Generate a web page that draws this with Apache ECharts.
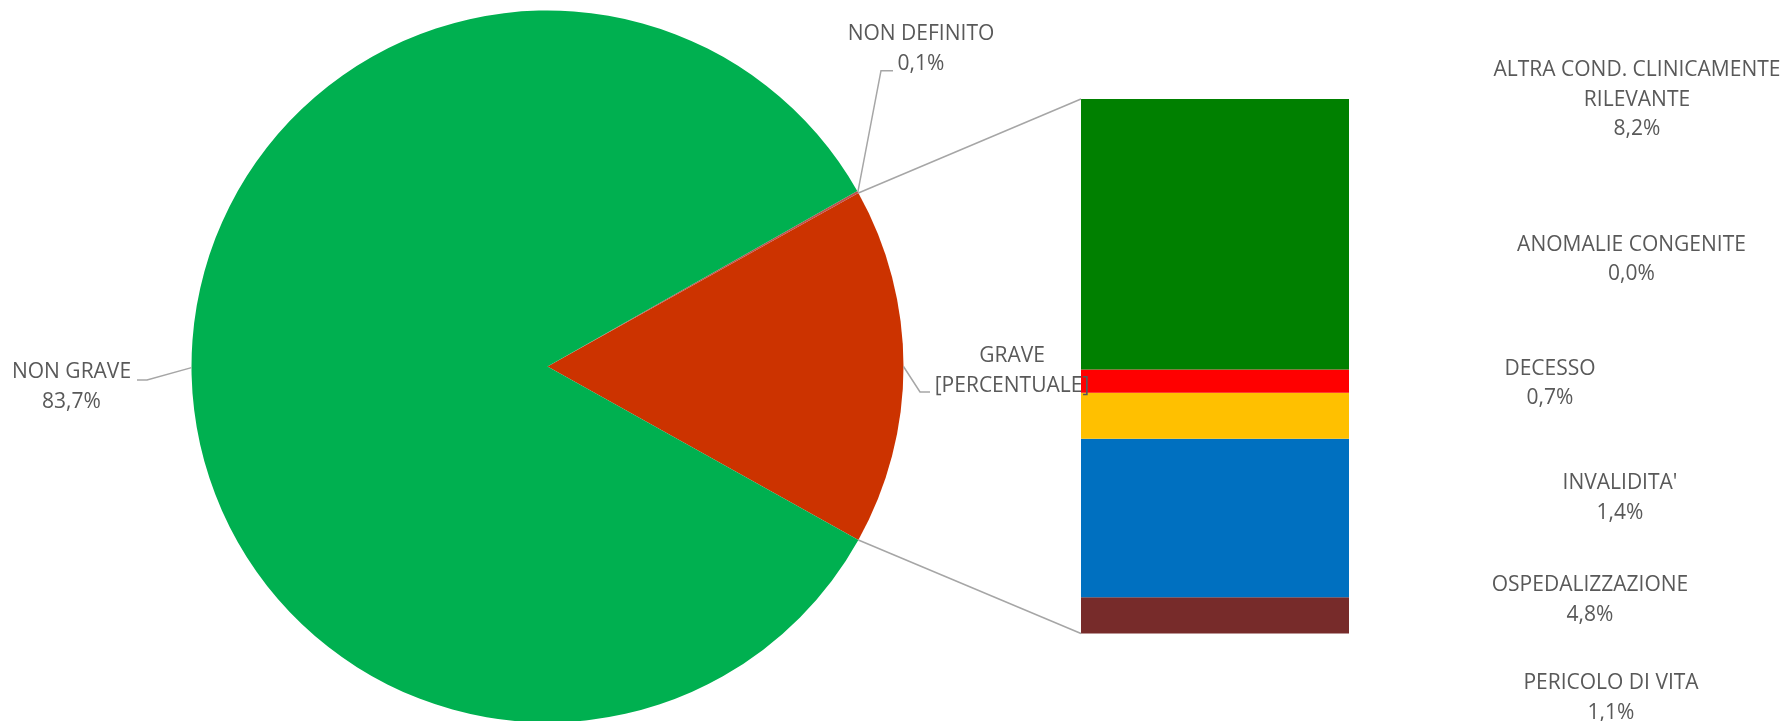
<!DOCTYPE html>
<html>
<head>
<meta charset="utf-8">
<script src="https://cdn.jsdelivr.net/npm/echarts@6/dist/echarts.min.js"></script>
<style>
  html, body { margin: 0; padding: 0; background: #ffffff; }
  #chart { width: 1785px; height: 721px; }
</style>
</head>
<body>
<div id="chart"></div>
<script>
// Pie: overall outcome split (percent)
const pieCategories = ['GRAVE', 'NON DEFINITO', 'NON GRAVE'];
const pieOtherValues = [0.1, 83.7];           // NON DEFINITO, NON GRAVE
const pieColors = ['#CC3300', '#C0504D', '#00B050'];

// Bar: breakdown of the GRAVE slice (percent of total), top to bottom
const severeCategories = [
  'ALTRA COND. CLINICAMENTE\nRILEVANTE',
  'ANOMALIE CONGENITE',
  'DECESSO',
  "INVALIDITA'",
  'OSPEDALIZZAZIONE',
  'PERICOLO DI VITA'
];
const severeValues = [8.2, 0.0, 0.7, 1.4, 4.8, 1.1];
const severeColors = ['#008000', '#4F81BD', '#FF0000', '#FFC000', '#0070C0', '#772B2A'];

// Layout (pixels)
const PIE_CENTER = [547.5, 366.5];
const PIE_RADIUS = 356;
const BAR_BOX = { left: 1081, top: 99, width: 268, height: 534.5 };
const severeLabelPos = [[1637, 100], [1631.5, 259.5], [1550, 383.5], [1620, 498], [1590, 600], [1611, 698]];
const TEXT_COLOR = '#595959';
const LINE_COLOR = '#A6A6A6';
const FONT = '"Open Sans", "Liberation Sans", sans-serif';
const FONT_SIZE = 21;
const LINE_H = 29.5;

const graveTotal = severeValues.reduce((a, b) => a + b, 0);
const pieValues = [graveTotal].concat(pieOtherValues);
const pieTotal = pieValues.reduce((a, b) => a + b, 0);
const fmt = v => v.toFixed(1).replace('.', ',') + '%';

// Slice angles (degrees, counter-clockwise from east); GRAVE centred on the horizontal
const startAngle = -(graveTotal / pieTotal) * 180;
const sliceAngles = [];
let acc = startAngle;
pieValues.forEach(v => {
  const span = v / pieTotal * 360;
  sliceAngles.push({ from: acc, to: acc + span, mid: acc + span / 2 });
  acc += span;
});
const piePoint = deg => {
  const a = deg * Math.PI / 180;
  return [PIE_CENTER[0] + PIE_RADIUS * Math.cos(a), PIE_CENTER[1] - PIE_RADIUS * Math.sin(a)];
};

const chart = echarts.init(document.getElementById('chart'), null, { renderer: 'canvas' });

const barSeries = [];
for (let i = severeValues.length - 1; i >= 0; i--) {
  barSeries.push({
    type: 'bar',
    name: severeCategories[i],
    stack: 'grave',
    barWidth: '100%',
    data: [severeValues[i]],
    itemStyle: { color: severeColors[i], borderWidth: 0 },
    silent: true
  });
}

chart.setOption({
  animation: false,
  backgroundColor: '#ffffff',
  grid: { left: BAR_BOX.left, top: BAR_BOX.top, width: BAR_BOX.width, height: BAR_BOX.height, containLabel: false },
  xAxis: { type: 'category', data: ['GRAVE'], show: false, boundaryGap: true },
  yAxis: { type: 'value', min: 0, max: graveTotal, show: false },
  series: [
    {
      type: 'pie',
      center: PIE_CENTER,
      radius: [0, PIE_RADIUS],
      startAngle: startAngle,
      clockwise: false,
      silent: true,
      avoidLabelOverlap: false,
      label: { show: false },
      labelLine: { show: false },
      itemStyle: { borderWidth: 0 },
      data: pieCategories.map((n, i) => ({ name: n, value: pieValues[i], itemStyle: { color: pieColors[i] } }))
    }
  ].concat(barSeries)
});

// Connector lines from the GRAVE slice to the bar, plus all text labels
const barTop = chart.convertToPixel({ gridIndex: 0 }, [0, graveTotal])[1];
const barBottom = chart.convertToPixel({ gridIndex: 0 }, [0, 0])[1];
const graveUpper = piePoint(sliceAngles[0].to);
const graveLower = piePoint(sliceAngles[0].from);

const textStyle = (text, x, y) => ({
  type: 'text',
  x: x, y: y, z: 100,
  style: {
    text: text,
    fill: TEXT_COLOR,
    font: FONT_SIZE + 'px ' + FONT,
    align: 'center',
    verticalAlign: 'middle',
    lineHeight: LINE_H
  }
});
const line = points => ({
  type: 'polyline', z: 50,
  shape: { points: points },
  style: { stroke: LINE_COLOR, lineWidth: 1.5, fill: null }
});

const nonGravePt = piePoint(sliceAngles[2].mid);
const nonDefPt = piePoint(sliceAngles[1].mid);
const gravePt = piePoint(sliceAngles[0].mid);

const graphics = [
  line([graveUpper, [BAR_BOX.left, barTop]]),
  line([graveLower, [BAR_BOX.left, barBottom]]),
  // pie labels with leader lines
  line([[137, 380], [147, 380], nonGravePt]),
  textStyle(pieCategories[2] + '\n' + fmt(pieValues[2]), 71.5, 387),
  line([[893, 70.7], [881, 70.7], nonDefPt]),
  textStyle(pieCategories[1] + '\n' + fmt(pieValues[1]), 921, 49),
  line([gravePt, [920, 392], [930, 392]]),
  textStyle(pieCategories[0] + '\n[PERCENTUALE]', 1012, 371)
];
severeCategories.forEach((c, i) => {
  graphics.push(textStyle(c + '\n' + fmt(severeValues[i]), severeLabelPos[i][0], severeLabelPos[i][1]));
});

chart.setOption({ graphic: { elements: graphics } });
</script>
</body>
</html>
